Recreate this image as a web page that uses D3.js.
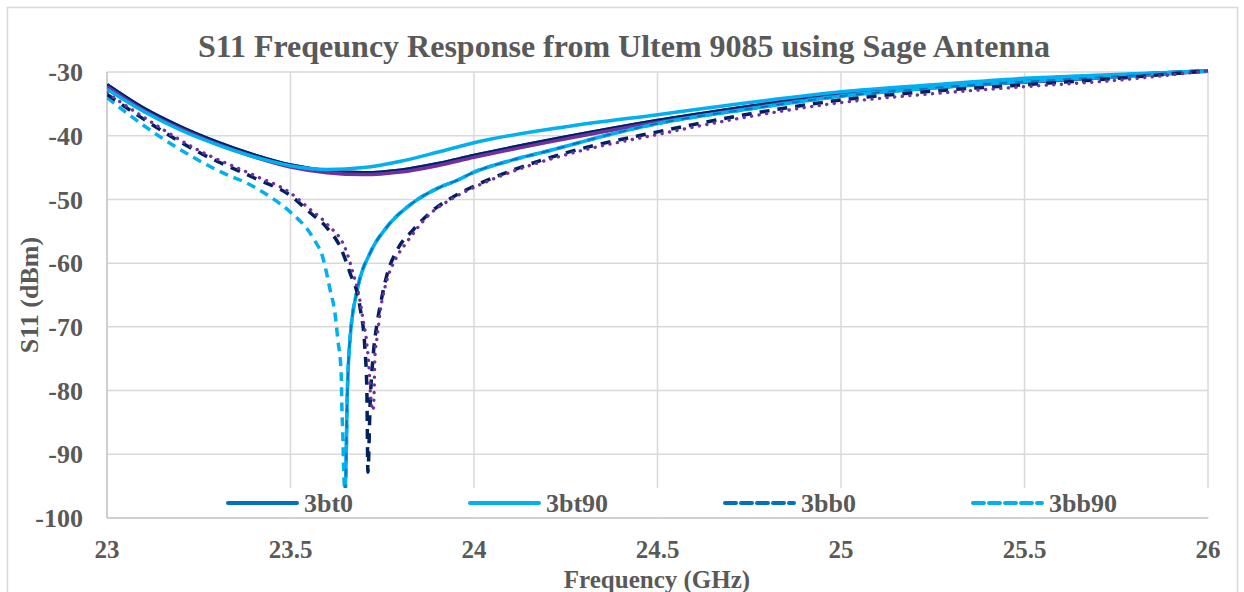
<!DOCTYPE html>
<html>
<head>
<meta charset="utf-8">
<script src="https://cdn.jsdelivr.net/npm/d3@7"></script>
<style>
  body { margin: 0; background: #fff; }
  svg text { font-family: "Liberation Serif", "Times New Roman", serif; font-weight: bold; fill: #595959; }
</style>
</head>
<body>
<svg id="chart" width="1244" height="592"></svg>
<script>
// frequency ticks / S11 ticks
const xTicks = [23, 23.5, 24, 24.5, 25, 25.5, 26]
const yTicks = [-30, -40, -50, -60, -70, -80, -90, -100]

// solid curves (min near 23.7)
const freqA = [23.0, 23.1, 23.2, 23.3, 23.4, 23.5, 23.6, 23.7, 23.8, 23.9, 24.0, 24.25, 24.5, 24.75, 25.0, 25.25, 25.5, 25.75, 26.0]
const s11A = [-32.0, -35.7, -38.6, -41.0, -43.0, -44.6, -45.5, -45.8, -45.4, -44.4, -43.1, -40.2, -37.6, -35.4, -33.4, -32.2, -31.3, -30.5, -29.8]
const s11Apurple = [-32.3, -36.0, -38.9, -41.3, -43.3, -44.9, -45.8, -46.1, -45.7, -44.7, -43.4, -40.5, -37.9, -35.7, -33.7, -32.5, -31.6, -30.8, -29.9]

const freqB = [23.0, 23.1, 23.2, 23.3, 23.4, 23.5, 23.6, 23.7, 23.8, 23.9, 24.0, 24.25, 24.5, 24.75, 25.0, 25.25, 25.5, 25.75, 26.0]
const s11B = [-32.7, -36.2, -39.1, -41.4, -43.3, -44.7, -45.3, -45.0, -44.0, -42.6, -41.1, -38.6, -36.7, -34.8, -33.1, -32.0, -31.0, -30.4, -29.8]

// dashed / dotted curves, dip near 23.71
const freqC = [23.0, 23.1, 23.25, 23.4, 23.5, 23.55, 23.6, 23.635, 23.662, 23.689, 23.703, 23.708, 23.711, 23.717, 23.725, 23.736, 23.744, 23.763, 23.79, 23.834, 23.88, 23.943, 24.008, 24.125, 24.262, 24.5, 24.75, 25.0, 25.25, 25.5, 25.75, 26.0]
const s11C = [-33.5, -37.4, -42.6, -46.6, -49.4, -51.9, -54.5, -57.4, -61.5, -66.8, -73.6, -79.8, -92.8, -82.0, -74.7, -69.4, -66.8, -61.8, -58.0, -54.8, -52.1, -49.6, -47.7, -45.0, -42.5, -39.4, -36.6, -34.4, -33.0, -32.0, -31.0, -29.8]

const freqCdot = [23.0, 23.1, 23.25, 23.4, 23.5, 23.55, 23.6, 23.654, 23.670, 23.689, 23.698, 23.708, 23.714, 23.719, 23.725, 23.728, 23.730, 23.736, 23.744, 23.763, 23.785, 23.817, 23.88, 23.943, 24.008, 24.125, 24.262, 24.5, 24.75, 25.0, 25.25, 25.5, 25.75, 26.0]
const s11Cdot = [-33.3, -37.1, -42.3, -46.2, -49.0, -51.4, -53.9, -58.4, -61.5, -65.8, -69.0, -72.6, -76.4, -81.5, -83.1, -80.0, -74.7, -71.6, -67.8, -62.6, -59.5, -56.7, -52.3, -49.8, -47.9, -45.2, -42.8, -39.8, -37.0, -34.8, -33.4, -32.3, -31.3, -29.8]

// dashed curve, dip near 23.65
const freqD = [23.0, 23.1, 23.2, 23.3, 23.4, 23.45, 23.5, 23.561, 23.589, 23.608, 23.621, 23.629, 23.638, 23.640, 23.643, 23.645, 23.649, 23.652, 23.654, 23.662, 23.684, 23.717, 23.763, 23.834, 23.899, 23.954, 23.997, 24.106, 24.215, 24.37, 24.5, 24.75, 25.0, 25.25, 25.5, 25.75, 26.0]
const s11D = [-34.0, -38.4, -42.2, -45.4, -48.0, -49.8, -52.0, -56.0, -59.3, -64.2, -67.8, -72.0, -77.2, -82.5, -87.7, -92.8, -96.0, -90.0, -82.5, -72.0, -63.7, -58.4, -54.3, -50.5, -48.3, -47.0, -45.8, -43.8, -42.2, -39.8, -38.1, -35.8, -33.8, -32.5, -31.5, -30.7, -29.8]
const dipD = 23.649

const legendNames = ["3bt0", "3bt90", "3bb0", "3bb90"]

const svg = d3.select("#chart")
const plotL = 107, plotR = 1208, plotT = 72, plotB = 518

const x = d3.scaleLinear().domain([23, 26]).range([plotL, plotR])
const y = d3.scaleLinear().domain([-30, -100]).range([plotT, plotB])

// outer border
svg.append("rect")
  .attr("x", 7.5).attr("y", 7.5).attr("width", 1230).attr("height", 620)
  .attr("fill", "#fff").attr("stroke", "#d9d9d9").attr("stroke-width", 1.5)

// gridlines
svg.append("g").selectAll("line").data(yTicks).join("line")
  .attr("x1", plotL).attr("x2", plotR)
  .attr("y1", d => y(d)).attr("y2", d => y(d))
  .attr("stroke", d => d === -100 ? "#bfbfbf" : "#d9d9d9").attr("stroke-width", 1.5)

svg.append("g").selectAll("line").data(xTicks).join("line")
  .attr("x1", d => x(d)).attr("x2", d => x(d))
  .attr("y1", plotT).attr("y2", plotB)
  .attr("stroke", d => d === 23 ? "#bfbfbf" : "#d9d9d9").attr("stroke-width", 1.5)

// axis labels
svg.append("g").selectAll("text").data(yTicks).join("text")
  .attr("x", 83).attr("y", d => y(d)).attr("dy", "0.35em")
  .attr("text-anchor", "end").attr("font-size", 26)
  .text(d => d)

svg.append("g").selectAll("text").data(xTicks).join("text")
  .attr("x", d => x(d)).attr("y", 549).attr("dy", "0.35em")
  .attr("text-anchor", "middle").attr("font-size", 25)
  .text(d => d)

svg.append("text")
  .attr("x", 624).attr("y", 57).attr("text-anchor", "middle").attr("font-size", 32)
  .text("S11 Freqeuncy Response from Ultem 9085 using Sage Antenna")

svg.append("text")
  .attr("x", 657).attr("y", 588).attr("text-anchor", "middle").attr("font-size", 25)
  .text("Frequency (GHz)")

svg.append("text")
  .attr("transform", "translate(38,295) rotate(-90)")
  .attr("text-anchor", "middle").attr("font-size", 26)
  .text("S11 (dBm)")

// series
const pts = (f, v) => f.map((d, i) => [d, v[i]])
const rightOnly = (f, v) => pts(f, v).filter(d => d[0] >= dipD)

const series = [
  { data: pts(freqA, s11A), color: "#0070C0", w: 3.5, dash: null },
  { data: pts(freqA, s11A), color: "#002060", w: 3.5, dash: null },
  { data: pts(freqA, s11Apurple), color: "#7030A0", w: 3.5, dash: null },
  { data: pts(freqB, s11B), color: "#00B0F0", w: 3.5, dash: null },
  { data: pts(freqD, s11D), color: "#00B0F0", w: 3.5, dash: "9,6" },
  { data: rightOnly(freqD, s11D), color: "#00B0F0", w: 3.5, dash: null },
  { data: rightOnly(freqD, s11D), color: "#0070C0", w: 1.8, dash: "8,8" },
  { data: pts(freqC, s11C), color: "#002060", w: 3.5, dash: "10,8" },
  { data: pts(freqCdot, s11Cdot), color: "#7030A0", w: 3.4, dash: "0.1,7.5", cap: "round" }
]

const line = d3.line()
  .x(d => x(d[0]))
  .y(d => y(d[1]))
  .curve(d3.curveMonotoneX)

svg.append("clipPath").attr("id", "plotclip")
  .append("rect").attr("x", plotL).attr("y", plotT - 4).attr("width", plotR - plotL + 4).attr("height", plotB - plotT + 4)

svg.append("g").attr("clip-path", "url(#plotclip)")
  .selectAll("path").data(series).join("path")
  .attr("d", d => line(d.data))
  .attr("fill", "none")
  .attr("stroke", d => d.color)
  .attr("stroke-width", d => d.w)
  .attr("stroke-dasharray", d => d.dash)
  .attr("stroke-linecap", d => d.cap || "butt")

// legend
const legendItems = [
  { name: legendNames[0], color: "#0070C0", dash: null, x: 228 },
  { name: legendNames[1], color: "#00B0F0", dash: null, x: 470 },
  { name: legendNames[2], color: "#0070C0", dash: "11,5", x: 725 },
  { name: legendNames[3], color: "#00B0F0", dash: "11,5", x: 973 }
]

svg.append("rect")
  .attr("x", 200).attr("y", 488).attr("width", 1012).attr("height", 29)
  .attr("fill", "#fff")

const lg = svg.append("g").selectAll("g").data(legendItems).join("g")
  .attr("transform", d => `translate(${d.x},503)`)

lg.append("line")
  .attr("x1", 0).attr("x2", 69)
  .attr("stroke", d => d.color).attr("stroke-width", 4)
  .attr("stroke-dasharray", d => d.dash)
  .attr("stroke-linecap", "round")

lg.append("text")
  .attr("x", 76).attr("dy", "0.35em").attr("font-size", 26)
  .text(d => d.name)
</script>
</body>
</html>
